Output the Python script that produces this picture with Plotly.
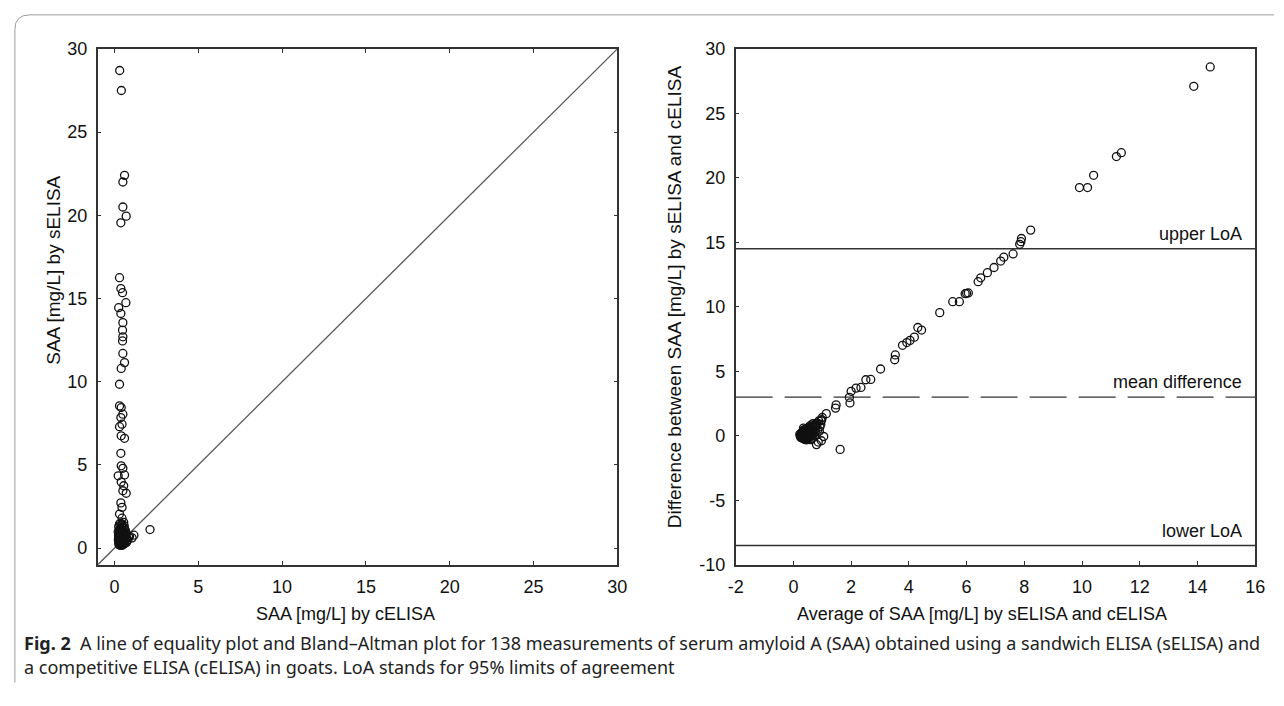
import plotly.graph_objects as go

# ---------------- data: line of equality plot (left) ----------------
celisa_high = [0.31, 0.41, 0.60, 0.50, 0.50, 0.70, 0.38, 0.30, 0.38, 0.48, 0.68, 0.25, 0.38, 0.50,
               0.48, 0.50, 0.48, 0.50, 0.60, 0.40, 0.30, 0.30, 0.40, 0.50, 0.38, 0.45, 0.30, 0.40,
               0.60, 0.38, 0.40, 0.50, 0.60, 0.22, 0.40, 0.55, 0.50, 0.70, 0.38, 0.45, 0.30, 0.45, 0.55]
selisa_high = [28.7, 27.5, 22.4, 22.0, 20.5, 19.95, 19.55, 16.25, 15.6, 15.35, 14.75, 14.45, 14.1, 13.55,
               13.1, 12.7, 12.45, 11.7, 11.15, 10.8, 9.85, 8.55, 8.45, 8.05, 7.85, 7.45, 7.3, 6.75,
               6.6, 5.7, 4.95, 4.8, 4.4, 4.35, 3.98, 3.75, 3.45, 3.3, 2.72, 2.45, 2.05, 1.8, 1.55]
celisa_low = [0.30, 0.42, 0.25, 0.50, 0.35, 0.60, 0.28, 0.45, 0.38, 0.55, 0.22, 0.32, 0.48, 0.65, 0.27,
              0.40, 0.52, 0.35, 0.58, 0.24, 0.44, 0.30, 0.50, 0.38, 0.62, 0.26, 0.46, 0.34, 0.55, 0.41,
              0.29, 0.48, 0.36, 0.60, 0.23, 0.43, 0.32, 0.52, 0.39, 0.27, 0.46, 0.35, 0.56, 0.30, 0.42,
              0.25, 0.50, 0.37, 0.45, 0.33, 0.53, 0.28, 0.40, 0.48, 0.35, 0.58, 0.31, 0.44, 0.38, 0.26,
              0.50, 0.34, 0.42, 0.30, 0.47, 0.37, 0.55, 0.70, 0.75, 0.68, 0.80, 0.72, 0.62, 0.85, 0.90,
              1.05, 1.16, 2.12, 0.66, 0.58, 0.36, 0.45, 0.52, 0.33, 0.41, 0.29, 0.47, 0.39, 0.53, 0.31,
              0.43, 0.36, 0.49, 0.27, 0.40]
selisa_low = [1.45, 1.38, 1.30, 1.25, 1.20, 1.18, 1.10, 1.08, 1.02, 1.00, 0.98, 0.95, 0.92, 0.90, 0.88,
              0.85, 0.83, 0.80, 0.78, 0.76, 0.75, 0.72, 0.70, 0.68, 0.66, 0.65, 0.63, 0.62, 0.60, 0.58,
              0.57, 0.55, 0.54, 0.52, 0.51, 0.50, 0.49, 0.47, 0.46, 0.45, 0.44, 0.42, 0.41, 0.40, 0.39,
              0.38, 0.37, 0.36, 0.34, 0.33, 0.32, 0.31, 0.30, 0.29, 0.28, 0.27, 0.26, 0.25, 0.24, 0.23,
              0.22, 0.21, 0.20, 0.19, 0.18, 0.17, 0.60, 0.55, 0.45, 0.75, 0.50, 0.35, 0.30, 0.65, 0.72,
              0.62, 0.78, 1.12, 1.05, 1.35, 1.50, 1.45, 0.95, 0.64, 0.72, 0.85, 0.52, 0.41, 0.58, 0.35,
              0.66, 0.47, 0.80, 0.55, 0.93]
celisa = celisa_high + celisa_low
selisa = selisa_high + selisa_low
equality_line = [-1, 30]
left_ticks = [0, 5, 10, 15, 20, 25, 30]

# ---------------- data: Bland-Altman plot (right) ----------------
avg_high = [14.44, 13.87, 11.36, 11.19, 10.40, 10.19, 9.91, 8.22, 7.90, 7.88, 7.84, 7.61, 7.29, 7.18,
            6.95, 6.72, 6.49, 6.40, 6.06, 6.00, 5.95, 5.75, 5.52, 5.07, 4.44, 4.31, 4.19, 4.04, 3.93,
            3.78, 3.53, 3.51, 3.02, 2.68, 2.51, 2.34, 2.17, 2.00, 1.94, 1.96, 1.48, 1.46, 1.14, 1.00,
            0.96, 0.80]
diff_high = [28.6, 27.1, 21.95, 21.65, 20.2, 19.25, 19.25, 15.95, 15.3, 15.05, 14.85, 14.1, 13.85, 13.55,
             13.05, 12.65, 12.25, 11.95, 11.08, 11.05, 11.02, 10.4, 10.4, 9.55, 8.2, 8.4, 7.65, 7.4, 7.23,
             7.02, 6.27, 5.9, 5.18, 4.37, 4.35, 3.75, 3.7, 3.45, 2.98, 2.55, 2.4, 2.15, 1.72, 1.42,
             1.17, 0.8]
avg_low = [0.88, 0.80, 0.75, 0.70, 0.66, 0.62, 0.58, 0.55, 0.52, 0.50, 0.48, 0.45, 0.43, 0.40, 0.38,
           0.36, 0.34, 0.32, 0.30, 0.28, 0.60, 0.56, 0.53, 0.50, 0.47, 0.44, 0.42, 0.40, 0.38, 0.36,
           0.65, 0.61, 0.58, 0.55, 0.52, 0.49, 0.46, 0.44, 0.41, 0.39, 0.70, 0.66, 0.62, 0.59, 0.56,
           0.53, 0.50, 0.47, 0.45, 0.25, 0.22, 0.27, 0.30, 0.33, 0.35, 0.24, 0.29, 0.31, 0.37, 0.41,
           0.72, 0.78, 0.85, 0.76, 0.68, 0.74, 0.64, 0.72, 0.82, 0.95, 0.92, 0.98, 0.86, 0.80, 1.05,
           0.97, 1.62, 0.90, 0.60, 0.35, 0.46, 0.54, 0.63, 0.57, 0.43, 0.49, 0.39, 0.68, 0.33, 0.26,
           0.51, 0.48]
diff_low = [1.15, 0.95, 0.85, 0.78, 0.70, 0.60, 0.55, 0.48, 0.42, 0.36, 0.30, 0.25, 0.20, 0.15, 0.10,
            0.05, 0.00, -0.05, -0.10, -0.15, 0.40, 0.32, 0.25, 0.18, 0.12, 0.06, 0.00, -0.06, -0.12, -0.18,
            0.30, 0.22, 0.15, 0.08, 0.02, -0.04, -0.10, -0.16, -0.22, -0.28, 0.20, 0.12, 0.05, -0.02, -0.08,
            -0.14, -0.20, -0.26, -0.32, 0.05, 0.12, 0.20, 0.28, 0.36, 0.45, -0.05, 0.10, 0.18, 0.26, 0.34,
            0.45, 0.55, 0.50, 0.30, -0.10, 0.00, -0.20, 0.65, 1.00, 0.90, 0.70, 1.25, -0.48, -0.68, -0.05,
            -0.38, -1.05, 0.35, -0.30, 0.60, 0.50, 0.66, 0.85, 0.75, 0.42, 0.58, 0.48, 0.95, -0.20, -0.12,
            0.10, -0.15]
avg_all = avg_high + avg_low
diff_all = diff_high + diff_low

mean_difference = 3.0
upper_loa = 14.5
lower_loa = -8.5
ba_xrange = [-2, 16]
ba_xticks = [-2, 0, 2, 4, 6, 8, 10, 12, 14, 16]
ba_yticks = [-10, -5, 0, 5, 10, 15, 20, 25, 30]

# ---------------- layout geometry (pixels) ----------------
W, H = 1284, 706
def px(x):
    return x / W
def py(y):
    return 1 - y / H

FONT = "Liberation Sans"
marker = dict(symbol="circle-open", size=8, color="#111111", line=dict(width=1.3, color="#111111"))

fig = go.Figure()

fig.add_trace(go.Scatter(x=equality_line, y=equality_line, mode="lines",
                         line=dict(color="#555555", width=1.3), xaxis="x", yaxis="y",
                         showlegend=False, hoverinfo="skip"))
fig.add_trace(go.Scatter(x=celisa, y=selisa, mode="markers", marker=marker,
                         xaxis="x", yaxis="y", showlegend=False))

fig.add_trace(go.Scatter(x=ba_xrange, y=[upper_loa, upper_loa], mode="lines",
                         line=dict(color="#333333", width=1.4), xaxis="x2", yaxis="y2",
                         showlegend=False, hoverinfo="skip"))
fig.add_trace(go.Scatter(x=ba_xrange, y=[mean_difference, mean_difference], mode="lines",
                         line=dict(color="#333333", width=1.4, dash="37px,12px"), xaxis="x2", yaxis="y2",
                         showlegend=False, hoverinfo="skip"))
fig.add_trace(go.Scatter(x=ba_xrange, y=[lower_loa, lower_loa], mode="lines",
                         line=dict(color="#333333", width=1.4), xaxis="x2", yaxis="y2",
                         showlegend=False, hoverinfo="skip"))
fig.add_trace(go.Scatter(x=avg_all, y=diff_all, mode="markers", marker=marker,
                         xaxis="x2", yaxis="y2", showlegend=False))

axis_common = dict(showgrid=False, zeroline=False, showline=True, linecolor="#333333", linewidth=1.5,
                   ticks="inside", ticklen=4, tickwidth=1.2, tickcolor="#333333", ticklabelstandoff=5,
                   tickfont=dict(family=FONT, size=18, color="#111111"))

def labels(vals):
    return [str(v) for v in vals]

top, bottom = 40, 571
fig.update_layout(
    width=W, height=H,
    margin=dict(l=0, r=0, t=0, b=0),
    paper_bgcolor="white", plot_bgcolor="white",
    xaxis=dict(domain=[px(91), px(618)], range=[-1, 30], tickvals=left_ticks, ticktext=labels(left_ticks),
               mirror="ticks", anchor="y", **axis_common),
    yaxis=dict(domain=[py(bottom), py(top)], range=[-1, 30], tickvals=left_ticks, ticktext=labels(left_ticks),
               mirror="ticks", anchor="x", **axis_common),
    xaxis2=dict(domain=[px(738), px(1265)], range=ba_xrange, tickvals=ba_xticks, ticktext=labels(ba_xticks),
                mirror=True, anchor="y2", **axis_common),
    yaxis2=dict(domain=[py(bottom), py(top)], range=[-10, 30], tickvals=ba_yticks, ticktext=labels(ba_yticks),
                mirror=True, anchor="x2", **axis_common),
)

ann = []
def text(x, y, s, size=18, xanchor="center", angle=0, family=FONT, color="#111111"):
    ann.append(dict(x=px(x), y=py(y), xref="paper", yref="paper", text=s, showarrow=False,
                    xanchor=xanchor, yanchor="middle", textangle=angle,
                    font=dict(family=family, size=size, color=color)))

text(342, 622, "SAA [mg/L] by cELISA")
text(46, 268, "SAA [mg/L] by sELISA", size=19, angle=-90)
text(988, 622, "Average of SAA [mg/L] by sELISA and cELISA")
text(676, 295, "Difference between SAA [mg/L] by sELISA and cELISA", size=19, angle=-90)
text(1254, 231, "upper LoA", xanchor="right")
text(1254, 383, "mean difference", xanchor="right")
text(1254, 536, "lower LoA", xanchor="right")

CAP = "Noto Sans"
text(14, 651, "<b>Fig. 2</b>  A line of equality plot and Bland–Altman plot for 138 measurements of serum amyloid A (SAA) obtained using a sandwich ELISA (sELISA) and",
     size=18, xanchor="left", family=CAP, color="#222222")
text(14, 676, "a competitive ELISA (cELISA) in goats. LoA stands for 95% limits of agreement",
     size=18, xanchor="left", family=CAP, color="#222222")
fig.update_layout(annotations=ann)

fig.add_shape(type="path", xref="paper", yref="paper",
              path=f"M {px(1284)},{py(5)} L {px(22)},{py(5)} Q {px(7)},{py(5)} {px(7)},{py(20)} L {px(7)},{py(692)}",
              line=dict(color="#9a9a9a", width=1))

fig.write_html("out.html", config={"displayModeBar": False},
               post_script="document.body.style.margin='0';document.body.style.overflow='hidden';")
